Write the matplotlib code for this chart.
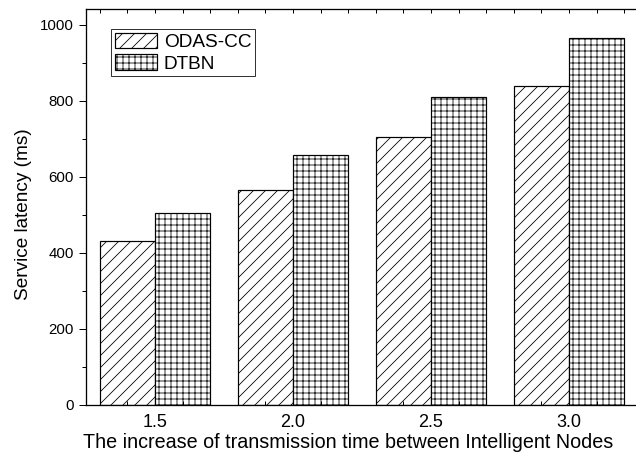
import matplotlib.pyplot as plt
from matplotlib.ticker import MultipleLocator

plt.rcParams['font.family'] = ['Liberation Sans', 'DejaVu Sans']
plt.rcParams['hatch.linewidth'] = 0.8

# transmission time increase (x) and service latency in ms
steps = [1.5, 2.0, 2.5, 3.0]
odas_cc = [432, 567, 705, 840]
dtbn = [505, 657, 811, 965]
tick_labels = ['1.5', '2.0', '2.5', '3.0']

# 72 dpi so hatch cells come out at the right density
fig = plt.figure(figsize=(636 / 72, 454 / 72), dpi=72)
ax = fig.add_axes([86 / 636, 49 / 454, 552 / 636, 396 / 454])

w = 0.2
ax.bar([s - w / 2 for s in steps], odas_cc, width=w, color='white',
       edgecolor='black', linewidth=1.2, hatch='//', label='ODAS-CC')
ax.bar([s + w / 2 for s in steps], dtbn, width=w, color='white',
       edgecolor='black', linewidth=1.2, hatch='++', label='DTBN')

ax.set_xlim(1.25, 3.25)
ax.set_ylim(0, 1042)

ax.set_xticks(steps)
ax.set_xticklabels(tick_labels)
ax.xaxis.set_minor_locator(MultipleLocator(0.1))
ax.yaxis.set_major_locator(MultipleLocator(200))
ax.yaxis.set_minor_locator(MultipleLocator(100))

ax.tick_params(axis='x', which='both', direction='in', top=True, bottom=True,
               length=4, width=1, labelsize=18, pad=9)
ax.tick_params(axis='y', which='major', direction='out', length=7, width=1,
               labelsize=15, pad=5)
ax.tick_params(axis='y', which='minor', direction='out', length=4, width=1)

for sp in ax.spines.values():
    sp.set_linewidth(1.3)

ax.set_xlabel('The increase of transmission time between Intelligent Nodes',
              fontsize=19.8)
ax.xaxis.set_label_coords((348.5 - 86) / 552, -(433 - 405) / 396)
ax.set_ylabel('Service latency (ms)', fontsize=19)
ax.yaxis.set_label_coords((32 - 86) / 552, (405 - 214) / 396)

leg = ax.legend(loc='upper left', bbox_to_anchor=(25 / 552, 1 - 20 / 396),
                fontsize=19, frameon=True, fancybox=False, borderpad=0.2,
                handlelength=2.2, handleheight=0.85, handletextpad=0.37,
                labelspacing=0.18, borderaxespad=0)
leg.get_frame().set_edgecolor('black')
leg.get_frame().set_linewidth(1)

fig.savefig('out.png', dpi=72)
